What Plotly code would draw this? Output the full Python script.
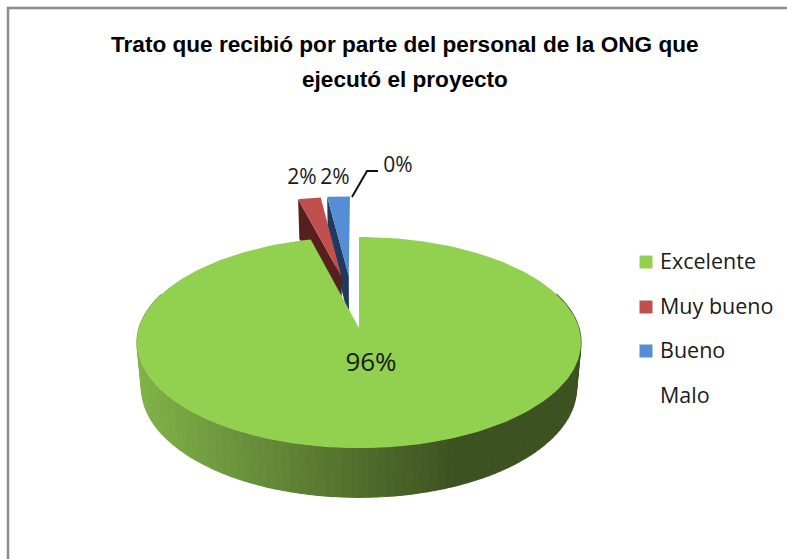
import numpy as np
import plotly.graph_objects as go

# ---- data ----
categories = ["Excelente", "Muy bueno", "Bueno", "Malo"]
values = [96, 2, 2, 0]
title_lines = ["Trato que recibió por parte del personal de la ONG que", "ejecutó el proyecto"]

# ---- styles ----
top_colors = ["#92D050", "#C0504D", "#558ED5", "rgba(0,0,0,0)"]
cut_colors = ["#3c5220", "#571f1e", "#1f3a5f", "rgba(0,0,0,0)"]
exploded = [0.0, 0.54, 0.54, 0.54]
nudge_u = [0.0, 0.016, -0.016, 0.0]
label_xy = [(371, 364), (302, 179), (335, 179), (398, 167)]
legend_x = 646
legend_text_x = 660
legend_y = [262, 307, 351, 396]

# ---- projection of a tilted 3-D pie onto a pixel-scaled plot area ----
CX, CY, R, S, K, DEPTH, SHRINK = 359, 328, 219.9, 103.6, 0.1374, 44.5, 0.98


def project(u, v, low=False):
    w = 1 + K * v
    if low:
        return CX + SHRINK * R * u / w, CY + (DEPTH - SHRINK * S * v) / w
    return CX + R * u / w, CY - S * v / w


def mix(a, b, t):
    c = [round(a[i] + (b[i] - a[i]) * t) for i in range(3)]
    return f"rgb({c[0]},{c[1]},{c[2]})"


fig = go.Figure()


def poly(xs, ys, color, width=0.0):
    fig.add_trace(go.Scatter(x=list(xs), y=list(ys), mode="lines", fill="toself", fillcolor=color,
                             line=dict(width=width, color=color), hoverinfo="skip", showlegend=False))


edges = np.cumsum([0] + values) / sum(values) * 360.0
slices = []
for i in range(len(values)):
    a0, a1 = np.radians(edges[i]), np.radians(edges[i + 1])
    mid = (a0 + a1) / 2
    slices.append((a0, a1, exploded[i] * np.sin(mid) + nudge_u[i], exploded[i] * np.cos(mid)))

# exploded slices, back to front: blue, then red
for i in (2, 1):
    a0, a1, du, dv = slices[i]
    # cut face on the left side of the wedge
    ou, ov = du + np.sin(a0), dv + np.cos(a0)
    pts = [project(ou, ov), project(du, dv), project(du, dv, True), project(ou, ov, True)]
    poly([p[0] for p in pts], [p[1] for p in pts], cut_colors[i])
    th = np.linspace(a0, a1, 12)
    pts = [project(du, dv)] + [project(du + np.sin(t), dv + np.cos(t)) for t in th]
    poly([p[0] for p in pts], [p[1] for p in pts], top_colors[i])

# rim of the large slice with a shaded side
a0, a1, du, dv = slices[0]
th = np.linspace(np.radians(70), np.radians(290), 111)
LIGHT, MIDC, DARK = (128, 178, 72), (94, 128, 52), (60, 82, 32)
for t0, t1 in zip(th[1:][::-1], th[:-1][::-1]):
    p = [project(np.sin(t0), np.cos(t0)), project(np.sin(t1), np.cos(t1)),
         project(np.sin(t1), np.cos(t1), True), project(np.sin(t0), np.cos(t0), True)]
    xm = sum(q[0] for q in p) / 4
    f = np.clip((xm - 141) / (455 - 141), 0, 1)
    col = mix(LIGHT, MIDC, f * 2) if f < 0.5 else mix(MIDC, DARK, (f - 0.5) * 2)
    poly([q[0] for q in p], [q[1] for q in p], col, width=1.2)

# top of the large slice
th = np.linspace(a0, a1, 240)
pts = [project(0, 0)] + [project(np.sin(t), np.cos(t)) for t in th]
poly([p[0] for p in pts], [p[1] for p in pts], top_colors[0])

# leader line of the empty slice
fig.add_trace(go.Scatter(x=[352, 367, 378], y=[197, 171, 171], mode="lines",
                         line=dict(color="#111111", width=2), hoverinfo="skip", showlegend=False))

# data labels
fig.add_trace(go.Scatter(x=[p[0] for p in label_xy], y=[p[1] for p in label_xy], mode="text",
                         text=[f"{v}%" for v in values], textposition="middle center",
                         textfont=dict(family="Open Sans", size=[26, 21, 21, 21], color="#1a1a1a"),
                         hoverinfo="skip", showlegend=False))

# legend entries
for i, name in enumerate(categories):
    fig.add_trace(go.Scatter(x=[legend_x], y=[legend_y[i]], mode="markers", name=name,
                             marker=dict(symbol="square", size=13, color=top_colors[i]),
                             showlegend=False))
fig.add_trace(go.Scatter(x=[legend_text_x] * len(categories), y=[y + 2 for y in legend_y], mode="text",
                         text=categories, textposition="middle right",
                         textfont=dict(family="Open Sans", size=21.5, color="#1a1a1a"),
                         hoverinfo="skip", showlegend=False))

fig.update_layout(
    width=787, height=559, margin=dict(l=0, r=0, t=0, b=0),
    paper_bgcolor="white", plot_bgcolor="white",
    showlegend=False,
    xaxis=dict(range=[0, 787], visible=False, fixedrange=True),
    yaxis=dict(range=[559, 0], visible=False, fixedrange=True),
    shapes=[dict(type="path", path="M 8 570 L 8 8 L 800 8", xref="x", yref="y",
                 line=dict(color="#8c8c8c", width=2.5))],
    annotations=[
        dict(x=405, y=44, xref="x", yref="y", text=title_lines[0], showarrow=False,
             font=dict(family="Liberation Sans", size=22.6, color="black", weight="bold")),
        dict(x=405, y=79, xref="x", yref="y", text=title_lines[1], showarrow=False,
             font=dict(family="Liberation Sans", size=22.6, color="black", weight="bold")),
    ],
)
fig.write_html("out.html", config=dict(displayModeBar=False),
               post_script="document.body.style.margin='0';")
